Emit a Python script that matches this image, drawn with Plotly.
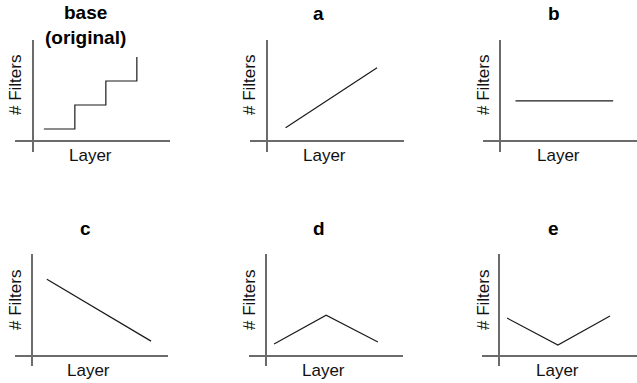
import plotly.graph_objects as go

W, H = 637, 383

# ---- data (schematic: layer index vs relative number of filters) ----
panel_titles = ["base<br>(original)", "a", "b", "c", "d", "e"]
x_label = "Layer"
y_label = "# Filters"

base_layer = [0.35, 1.35, 1.35, 2.35, 2.35, 3.35, 3.35]
base_filters = [0.5, 0.5, 1.5, 1.5, 2.5, 2.5, 3.5]
a_layer = [0.6, 3.55]
a_filters = [0.55, 3.05]
b_layer = [0.5, 3.65]
b_filters = [1.67, 1.67]
c_layer = [0.48, 3.84]
c_filters = [3.2, 0.62]
d_layer = [0.26, 1.94, 3.61]
d_filters = [0.5, 1.7, 0.58]
e_layer = [0.26, 1.9, 3.58]
e_filters = [1.58, 0.46, 1.67]

series = [(base_layer, base_filters), (a_layer, a_filters), (b_layer, b_filters),
          (c_layer, c_filters), (d_layer, d_filters), (e_layer, e_filters)]

# ---- layout geometry (pixels): left, right, top, bottom, origin x, origin y ----
boxes = [
    (15, 170, 40, 152, 33, 141),
    (250, 404, 40, 152, 267, 141),
    (483, 637, 40, 152, 500, 141),
    (15, 168, 254, 366, 32, 356),
    (249, 403, 254, 366, 266, 356),
    (482, 637, 254, 366, 499, 356),
]
UX, UY = 31.0, 24.0  # pixels per data unit
title_pos = [(85, 25), (319, 13), (554, 13), (85, 228), (319, 228), (553, 228)]
xlab_pos = [(90, 155), (324, 155), (558, 155), (88, 370), (323, 370), (557, 370)]
ylab_pos = [(15, 85), (249, 85), (483, 85), (15, 300), (249, 300), (483, 300)]

FONT = "Liberation Sans, Arial, Helvetica, sans-serif"

fig = go.Figure()
layout = dict(width=W, height=H, autosize=False,
              margin=dict(l=0, r=0, t=0, b=0),
              paper_bgcolor="white", plot_bgcolor="white",
              showlegend=False, annotations=[])


def px(x):
    return x / W


def py(y):
    return 1 - y / H


for i, ((lx, fy), (l, r, t, b, ox, oy)) in enumerate(zip(series, boxes)):
    n = "" if i == 0 else str(i + 1)
    fig.add_trace(go.Scatter(x=lx, y=fy, mode="lines",
                             line=dict(color="#1a1a1a", width=1.2),
                             xaxis="x" + n, yaxis="y" + n, hoverinfo="skip"))
    common = dict(showgrid=False, showticklabels=False, ticks="",
                  showline=False, zeroline=True, zerolinecolor="#6b6b6b",
                  zerolinewidth=1.6, fixedrange=True)
    layout["xaxis" + n] = dict(domain=[px(l), px(r)],
                               range=[(l - ox) / UX, (r - ox) / UX],
                               anchor="y" + n, **common)
    layout["yaxis" + n] = dict(domain=[py(b), py(t)],
                               range=[(oy - b) / UY, (oy - t) / UY],
                               anchor="x" + n, **common)
    tx, ty = title_pos[i]
    layout["annotations"].append(dict(
        text="<b>" + panel_titles[i].replace("<br>", "</b><br><b>") + "</b>",
        x=px(tx), y=py(ty), xref="paper", yref="paper",
        xanchor="center", yanchor="middle", showarrow=False,
        font=dict(family=FONT, size=19, color="black")))
    xx, xy = xlab_pos[i]
    layout["annotations"].append(dict(
        text=x_label, x=px(xx), y=py(xy), xref="paper", yref="paper",
        xanchor="center", yanchor="middle", showarrow=False,
        font=dict(family=FONT, size=17, color="#111")))
    yx, yy = ylab_pos[i]
    layout["annotations"].append(dict(
        text=y_label, x=px(yx), y=py(yy), xref="paper", yref="paper",
        xanchor="center", yanchor="middle", showarrow=False, textangle=-90,
        font=dict(family=FONT, size=17, color="#111")))

fig.update_layout(**layout)
fig.write_html("out.html", config={"displayModeBar": False},
               post_script="document.body.style.margin='0';")
